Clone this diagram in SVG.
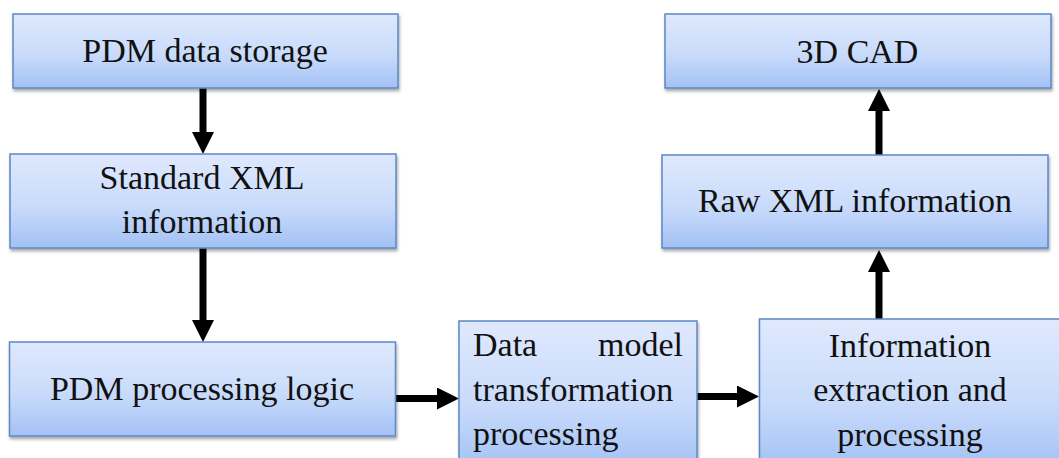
<svg xmlns="http://www.w3.org/2000/svg" width="1059" height="458" viewBox="0 0 1059 458">
  <defs>
    <linearGradient id="boxFill" x1="0" y1="0" x2="0" y2="1">
      <stop offset="0" stop-color="#dfe9fd"/>
      <stop offset="0.55" stop-color="#c9dbfb"/>
      <stop offset="1" stop-color="#a3c1f4"/>
    </linearGradient>
    <filter id="shadow" x="-5%" y="-10%" width="110%" height="130%">
      <feDropShadow dx="1" dy="2.5" stdDeviation="1.5" flood-color="#000" flood-opacity="0.35"/>
    </filter>
    <marker id="head" markerUnits="userSpaceOnUse" markerWidth="22" markerHeight="22" refX="0" refY="11" orient="auto">
      <path d="M0,0 L22,11 L0,22 Z" fill="#000"/>
    </marker>
  </defs>
  <style>
    .box { fill: url(#boxFill); stroke: #5b88c6; stroke-width: 1.5; filter: url(#shadow); }
    .label { font-family: "Liberation Serif", "Times New Roman", serif; font-size: 34px; fill: #111; }
    .mid { text-anchor: middle; }
    .conn { stroke: #000; stroke-width: 7; fill: none; marker-end: url(#head); }
  </style>

  <rect width="1059" height="458" fill="#fff"/>

  <g id="connectors">
    <line class="conn" x1="203" y1="88" x2="203" y2="132"/>
    <line class="conn" x1="203" y1="248" x2="203" y2="320"/>
    <line class="conn" x1="396" y1="398.5" x2="437" y2="398.5"/>
    <line class="conn" x1="697" y1="396.5" x2="737" y2="396.5"/>
    <line class="conn" x1="879" y1="319" x2="879" y2="272"/>
    <line class="conn" x1="879" y1="155" x2="879" y2="111"/>
  </g>

  <g id="pdm-storage">
    <rect class="box" x="13" y="14" width="385" height="74"/>
    <text class="label mid" x="205" y="62">PDM data storage</text>
  </g>

  <g id="standard-xml">
    <rect class="box" x="10" y="154" width="386" height="94"/>
    <text class="label mid" x="202" y="189">Standard XML</text>
    <text class="label mid" x="202" y="233">information</text>
  </g>

  <g id="pdm-logic">
    <rect class="box" x="9.5" y="342" width="386" height="94"/>
    <text class="label mid" x="202" y="400">PDM processing logic</text>
  </g>

  <g id="data-model">
    <rect class="box" x="459" y="321" width="238" height="150"/>
    <text class="label" x="473" y="356">Data</text>
    <text class="label" x="683" y="356" text-anchor="end">model</text>
    <text class="label" x="473" y="401">transformation</text>
    <text class="label" x="473" y="445">processing</text>
  </g>

  <g id="info-extraction">
    <rect class="box" x="759.5" y="319" width="303" height="150"/>
    <text class="label mid" x="910" y="357">Information</text>
    <text class="label mid" x="910" y="401">extraction and</text>
    <text class="label mid" x="910" y="446">processing</text>
  </g>

  <g id="raw-xml">
    <rect class="box" x="662" y="155" width="386" height="93"/>
    <text class="label mid" x="855" y="212">Raw XML information</text>
  </g>

  <g id="cad-3d">
    <rect class="box" x="665" y="14" width="386" height="74"/>
    <text class="label mid" x="857.5" y="63">3D CAD</text>
  </g>
</svg>
